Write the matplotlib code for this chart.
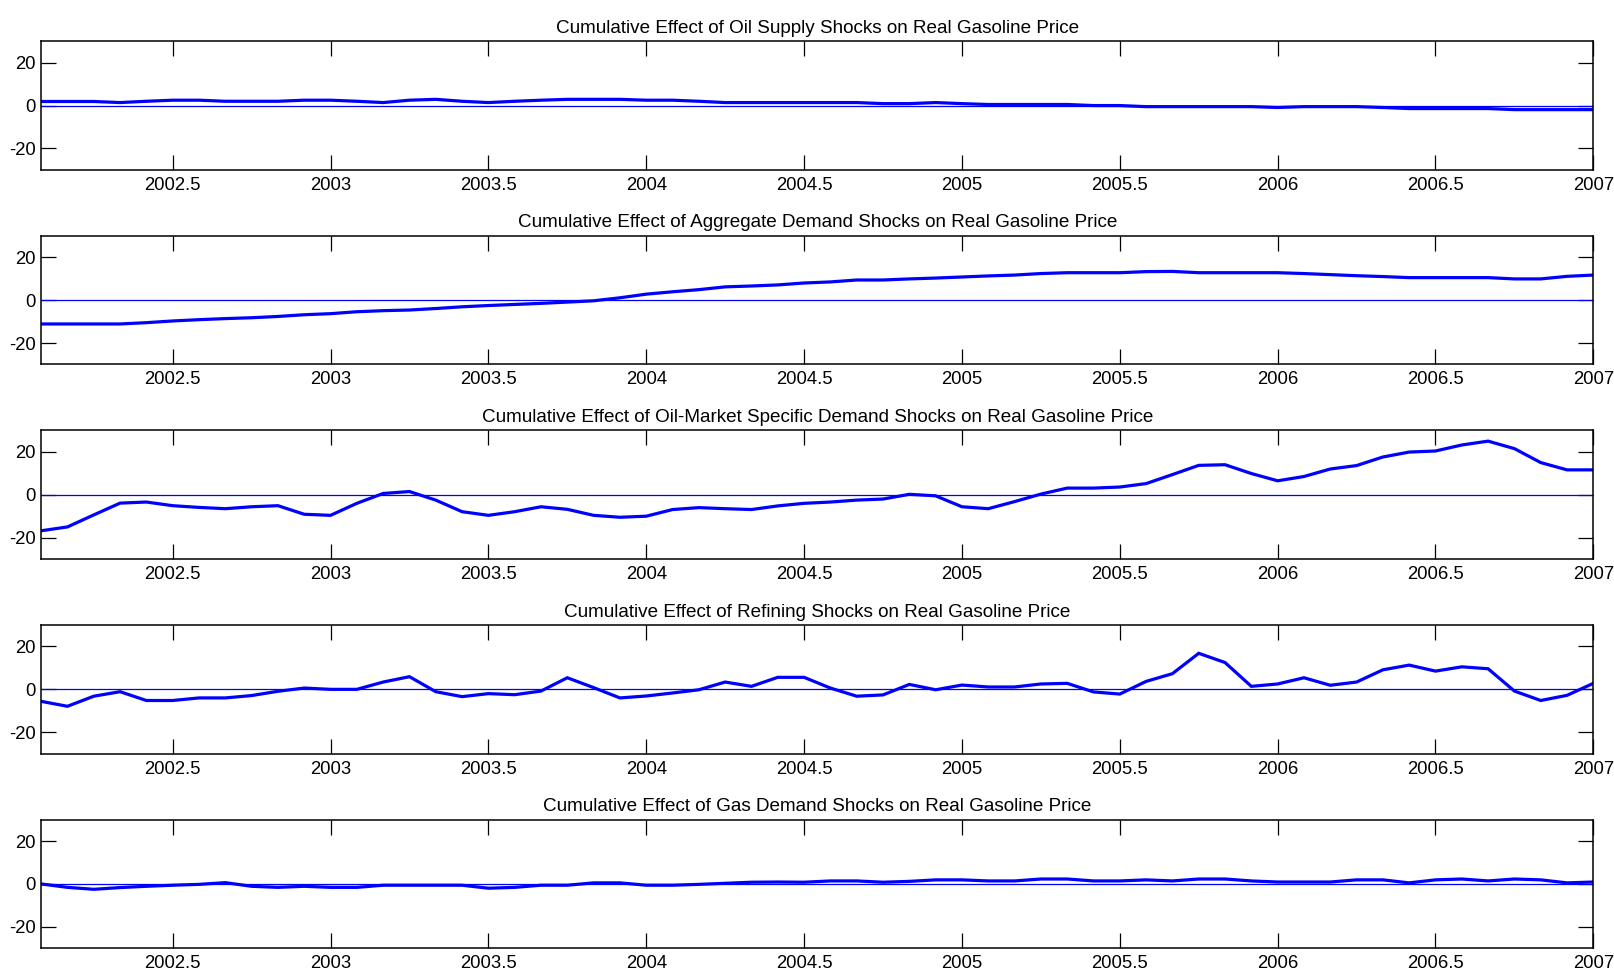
import numpy as np
import matplotlib.pyplot as plt

plt.rcParams['font.family'] = ['Liberation Sans', 'DejaVu Sans']
plt.rcParams['axes.unicode_minus'] = False

# monthly dates, Feb 2002 .. Jan 2007
dates = 2002 + np.arange(1, 61) / 12.0

titles = [
    'Cumulative Effect of Oil Supply Shocks on Real Gasoline Price',
    'Cumulative Effect of Aggregate Demand Shocks on Real Gasoline Price',
    'Cumulative Effect of Oil-Market Specific Demand Shocks on Real Gasoline Price',
    'Cumulative Effect of Refining Shocks on Real Gasoline Price',
    'Cumulative Effect of Gas Demand Shocks on Real Gasoline Price',
]

oil_supply = [
    1.9, 1.9, 1.9, 1.4, 2.0, 2.5, 2.5, 2.0, 2.0, 2.0,
    2.5, 2.5, 2.0, 1.4, 2.5, 2.9, 2.0, 1.4, 2.0, 2.5,
    2.9, 2.9, 2.9, 2.5, 2.5, 2.0, 1.4, 1.4, 1.4, 1.4,
    1.4, 1.4, 0.9, 0.9, 1.4, 0.9, 0.5, 0.5, 0.5, 0.5,
    0.0, 0.0, -0.5, -0.5, -0.5, -0.5, -0.5, -0.9, -0.5, -0.5,
    -0.5, -0.9, -1.4, -1.4, -1.4, -1.4, -1.9, -1.9, -1.9, -1.9,
]

aggregate_demand = [
    -11.1, -11.1, -11.1, -11.1, -10.5, -9.7, -9.1, -8.6, -8.2, -7.6,
    -6.8, -6.3, -5.4, -4.9, -4.6, -3.9, -3.1, -2.5, -2.0, -1.5,
    -0.9, -0.3, 1.1, 2.8, 3.9, 4.9, 6.2, 6.6, 7.1, 8.0,
    8.5, 9.4, 9.4, 9.9, 10.3, 10.8, 11.3, 11.7, 12.4, 12.8,
    12.8, 12.8, 13.3, 13.4, 12.8, 12.8, 12.8, 12.8, 12.4, 11.9,
    11.4, 11.0, 10.5, 10.5, 10.5, 10.5, 9.9, 9.9, 11.1, 11.7,
]

oil_specific_demand = [
    -16.8, -15.0, -9.4, -3.9, -3.4, -5.1, -5.9, -6.5, -5.6, -5.1,
    -9.1, -9.6, -4.0, 0.6, 1.5, -2.5, -7.9, -9.6, -7.9, -5.6,
    -6.8, -9.6, -10.5, -10.0, -6.9, -6.0, -6.5, -6.9, -5.2, -4.0,
    -3.4, -2.5, -2.0, 0.2, -0.5, -5.6, -6.5, -3.2, 0.3, 3.1,
    3.1, 3.6, 5.2, 9.4, 13.7, 14.0, 9.9, 6.5, 8.5, 12.0,
    13.6, 17.6, 19.9, 20.4, 23.2, 25.0, 21.5, 15.0, 11.6, 11.6,
]

refining = [
    -5.6, -7.9, -3.2, -1.1, -5.2, -5.2, -4.0, -4.0, -2.9, -0.9,
    0.6, 0.0, 0.0, 3.4, 5.9, -1.1, -3.4, -2.0, -2.5, -0.8,
    5.4, 0.8, -4.0, -3.1, -1.7, -0.2, 3.4, 1.4, 5.6, 5.6,
    0.6, -3.2, -2.6, 2.3, -0.2, 2.0, 1.1, 1.1, 2.5, 2.8,
    -1.2, -2.2, 3.7, 7.3, 16.8, 12.5, 1.4, 2.5, 5.4, 1.9,
    3.4, 9.1, 11.3, 8.5, 10.5, 9.6, -0.8, -5.2, -2.8, 2.8,
]

gas_demand = [
    0.0, -1.6, -2.5, -1.7, -1.1, -0.6, -0.2, 0.6, -1.1, -1.6,
    -1.1, -1.6, -1.6, -0.6, -0.6, -0.6, -0.6, -2.0, -1.6, -0.6,
    -0.6, 0.5, 0.5, -0.6, -0.6, -0.2, 0.3, 0.8, 0.9, 0.8,
    1.4, 1.4, 0.8, 1.2, 1.9, 1.9, 1.4, 1.4, 2.3, 2.3,
    1.4, 1.4, 1.9, 1.4, 2.3, 2.3, 1.4, 0.9, 0.9, 0.9,
    1.9, 1.9, 0.5, 1.9, 2.3, 1.4, 2.3, 1.9, 0.5, 0.9,
]

series = [oil_supply, aggregate_demand, oil_specific_demand, refining, gas_demand]

xticks = [2002.5, 2003, 2003.5, 2004, 2004.5, 2005, 2005.5, 2006, 2006.5, 2007]
xticklabels = ['2002.5', '2003', '2003.5', '2004', '2004.5', '2005', '2005.5', '2006', '2006.5', '2007']

fig = plt.figure(figsize=(16.14, 9.72), dpi=100)

left, width, height = 0.0255, 0.9617, 0.1324
bottoms = [0.8252, 0.625, 0.4248, 0.2246, 0.0244]

for title, values, bottom in zip(titles, series, bottoms):
    ax = fig.add_axes([left, bottom, width, height])
    ax.axhline(0, color='blue', lw=0.9)
    ax.plot(dates, values, color='blue', lw=2.3, solid_joinstyle='miter')
    ax.set_xlim(dates[0], 2007)
    ax.set_ylim(-30, 30)
    ax.set_yticks([-20, 0, 20])
    ax.set_xticks(xticks)
    ax.set_xticklabels(xticklabels)
    ax.tick_params(direction='in', length=11, width=0.9, labelsize=13.3,
                   top=True, right=True, pad=4)
    ax.tick_params(axis='x', pad=5)
    for spine in ax.spines.values():
        spine.set_linewidth(1.1)
    ax.set_title(title, fontsize=13.6, pad=6)

fig.savefig('out.png', dpi=100)
